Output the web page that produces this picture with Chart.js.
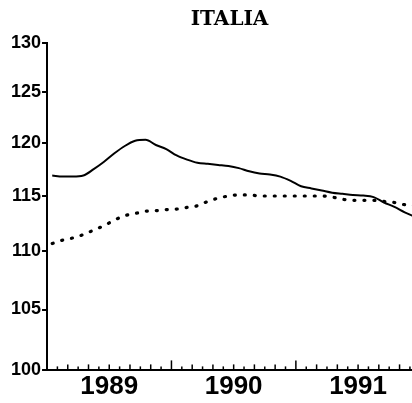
<!DOCTYPE html>
<html>
<head>
<meta charset="utf-8">
<script src="https://cdn.jsdelivr.net/npm/chart.js@4/dist/chart.umd.min.js"></script>
<style>
  html,body{margin:0;padding:0;background:#fff;}
  #caja{width:412px;height:403px;}
</style>
</head>
<body>
<div id="caja"><canvas id="grafico"></canvas></div>
<script>
/* ---------- datos ---------- */
const anios = ["1989","1990","1991"];
const posAnios = [6,18,30];            // mitad de cada año (meses desde ene 1989)
const ticksY = [100,105,110,115,120,125,130];
// línea continua (mensual, ene 1989 ...)
const continua = [116.9,116.8,116.8,116.9,117.5,118.2,119.0,119.7,120.2,120.3,119.8,119.4,
                  118.8,118.4,118.1,118.0,117.9,117.8,117.6,117.3,117.1,117.0,116.8,116.4,
                  115.9,115.7,115.5,115.3,115.2,115.1,115.05,114.9,114.4,114.0,113.5,113.1];
// línea punteada
const punteada = [110.7,111.0,111.2,111.5,111.9,112.3,112.8,113.2,113.4,113.6,113.65,113.75,
                  113.8,113.95,114.1,114.5,114.8,115.0,115.1,115.1,115.0,115.0,115.0,115.0,
                  115.0,115.0,115.0,114.9,114.7,114.6,114.6,114.6,114.5,114.4,114.2,114.1];

const aPuntos = arr => arr.map((v,i)=>({x:i+0.5, y:v}));

/* ---------- marcas mensuales hacia arriba ---------- */
const marcasMes = {
  id:'marcasMes',
  afterDraw(chart){
    const x = chart.scales.x, ctx = chart.ctx, base = chart.chartArea.bottom;
    ctx.save();
    ctx.strokeStyle = '#000'; ctx.lineWidth = 1.5;
    for(let m=0; m<=36; m++){
      const px = x.getPixelForValue(m);
      if(px > chart.chartArea.right+1) break;
      const h = m%12===0 ? 10 : (m%2===0 ? 6 : 4);
      ctx.beginPath(); ctx.moveTo(px, base); ctx.lineTo(px, base-h); ctx.stroke();
    }
    ctx.restore();
  }
};

new Chart(document.getElementById('grafico'), {
  type:'line',
  data:{datasets:[
    {data:aPuntos(continua), borderColor:'#000', borderWidth:2, pointRadius:0,
     cubicInterpolationMode:'monotone'},
    {data:aPuntos(punteada), borderColor:'#000', borderWidth:3.2, pointRadius:0,
     borderDash:[1,9], borderCapStyle:'round', cubicInterpolationMode:'monotone'}
  ]},
  options:{
    responsive:true, maintainAspectRatio:false, animation:false,
    layout:{padding:{left:10,right:0,top:0,bottom:0}},
    plugins:{
      legend:{display:false}, tooltip:{enabled:false},
      title:{display:true, text:'ITALIA', fullSize:false, color:'#000',
             font:{family:'DejaVu Serif', size:20, weight:'bold'},
             padding:{top:8,bottom:11}}
    },
    scales:{
      x:{type:'linear', min:0, max:35.2,
         afterBuildTicks: s => { s.ticks = posAnios.map(v=>({value:v})); },
         ticks:{color:'#000', padding:2, maxRotation:0, autoSkip:false,
                font:{family:'Liberation Sans', size:26, weight:'bold', lineHeight:1.1},
                callback:(v)=> anios[posAnios.indexOf(v)]},
         grid:{display:false, drawTicks:false},
         border:{display:true, color:'#000', width:2}},
      y:{type:'logarithmic', min:100, max:130,
         afterBuildTicks: s => { s.ticks = ticksY.map(v=>({value:v})); },
         ticks:{color:'#000', padding:1, autoSkip:false,
                font:{family:'Liberation Sans', size:18, weight:'bold'},
                callback:(v)=> String(v)},
         grid:{drawOnChartArea:false, drawTicks:true, tickLength:5, color:'#000', lineWidth:2},
         border:{display:true, color:'#000', width:2}}
    }
  },
  plugins:[marcasMes]
});
</script>
</body>
</html>
